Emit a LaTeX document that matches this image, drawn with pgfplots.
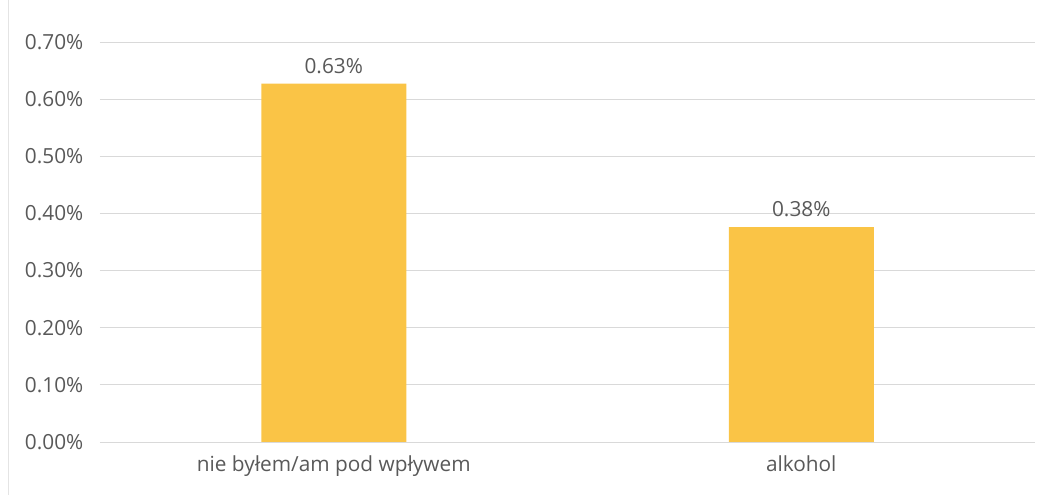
\documentclass[border=0pt]{standalone}
\usepackage{fontspec}
\setmainfont{Open Sans}
\usepackage{pgfplots}
\pgfplotsset{compat=1.18}
\definecolor{barc}{HTML}{FAC446}
\definecolor{txt}{HTML}{595959}
\definecolor{grd}{HTML}{D9D9D9}
\begin{document}
\begin{tikzpicture}
\useasboundingbox (-75pt,-39.75pt) rectangle (711pt,331.5pt);
\draw[grd!70, line width=0.6pt] (-69pt,-39.75pt) -- (-69pt,331.5pt);
\begin{axis}[
  at={(0,0)}, anchor=south west,
  scale only axis, width=701.25pt, height=300pt,
  xmin=-0.5, xmax=1.5, ymin=0, ymax=0.7,
  axis line style={draw=none},
  xtick={0,1}, xticklabels={nie byłem/am pod wpływem, alkohol},
  ytick={0,0.1,0.2,0.3,0.4,0.5,0.6,0.7},
  yticklabels={0.00\%,0.10\%,0.20\%,0.30\%,0.40\%,0.50\%,0.60\%,0.70\%},
  major tick length=0pt,
  ymajorgrids, grid style={grd, line width=0.7pt},
  tick label style={font=\fontsize{15.6}{18}\selectfont, text=txt},
  yticklabel style={xshift=-9pt},
  xticklabel style={yshift=-7pt},
  ybar, bar width=108.75pt,
  nodes near coords={\pgfmathprintnumber[fixed,fixed zerofill,precision=2,assume math mode=true]{\pgfplotspointmeta}\%},
  nodes near coords style={font=\fontsize{15.6}{18}\selectfont, text=txt, yshift=4pt},
]
\addplot[draw=none, fill=barc] coordinates {(0,0.627) (1,0.376)};
\end{axis}
\end{tikzpicture}
\end{document}
